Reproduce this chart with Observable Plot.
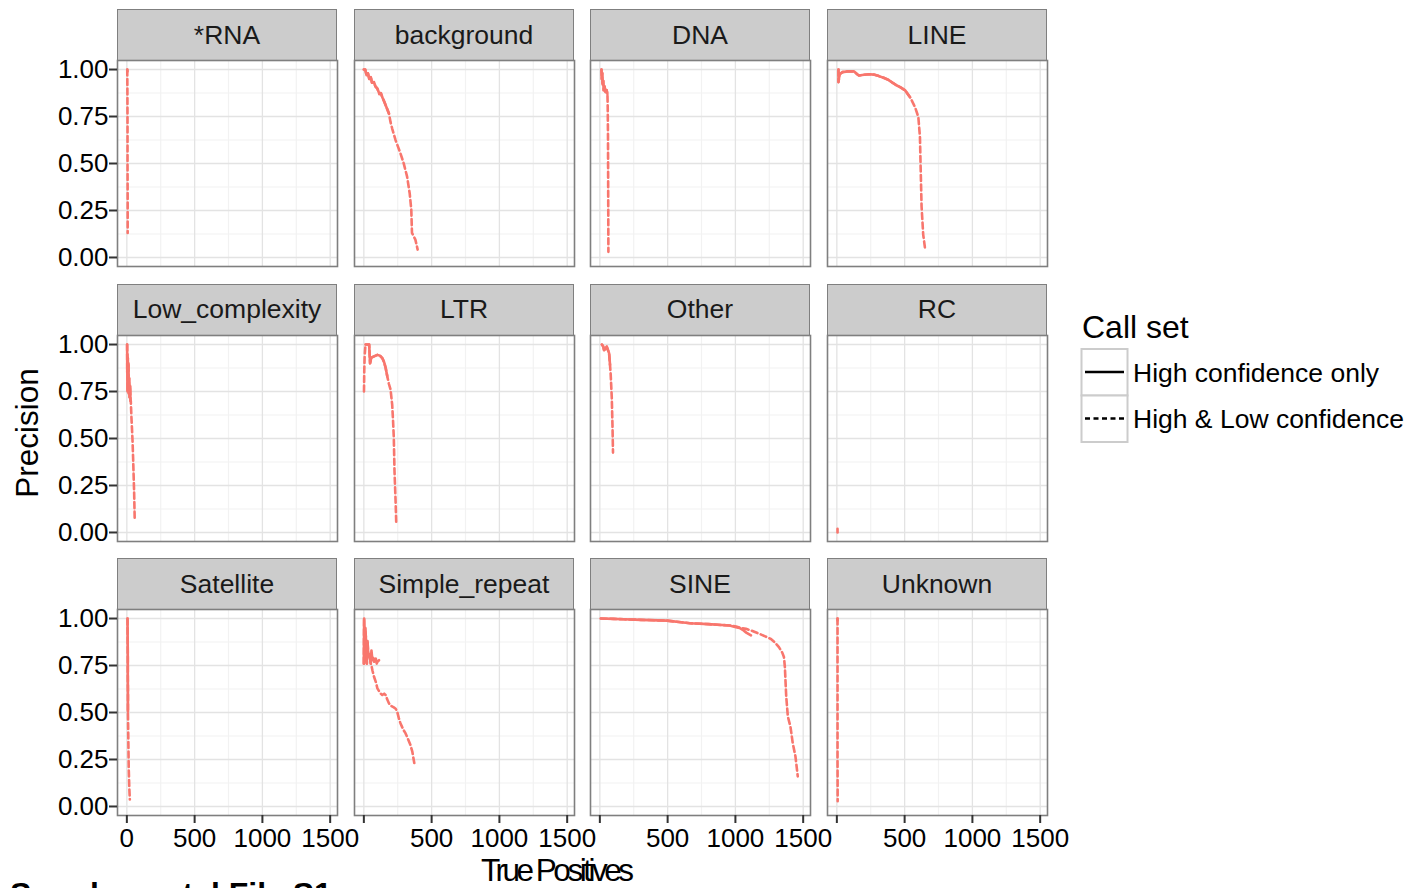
<!DOCTYPE html>
<html>
<head>
<meta charset="utf-8">
<script src="https://cdn.jsdelivr.net/npm/d3@7"></script>
<script src="https://cdn.jsdelivr.net/npm/@observablehq/plot@0.6"></script>
<style>
  html, body { margin: 0; padding: 0; background: #fff; }
  #chart { position: relative; width: 1412px; height: 888px; overflow: hidden; font-family: "Liberation Sans", Arial, sans-serif; color: #000; }
  .strip { position: absolute; box-sizing: border-box; background: #cccccc; border: 1.5px solid #7f7f7f; font-size: 26.5px; color: #1a1a1a; display: flex; align-items: center; justify-content: center; }
  .abs { position: absolute; }
</style>
</head>
<body>
<div id="chart"></div>
<script>
// ---------------- data (True Positives, Precision) ----------------
const facetNames = ["*RNA", "background", "DNA", "LINE", "Low_complexity", "LTR", "Other", "RC", "Satellite", "Simple_repeat", "SINE", "Unknown"];
const seriesNames = ["High confidence only", "High & Low confidence"];

const rna_hi = [[3, 1.0], [5, 0.99]];
const rna_all = [[3, 1.0], [4, 0.9], [5, 0.7], [5, 0.5], [6, 0.3], [6, 0.13]];

const background_hi = [[0, 1.0], [10, 1.0], [20, 0.97], [30, 0.98], [40, 0.95], [51, 0.96], [60, 0.93], [75, 0.933], [85, 0.91], [100, 0.898], [115, 0.87], [125, 0.875], [136, 0.853], [150, 0.83], [161, 0.81], [172, 0.79], [185, 0.766]];
const background_all = [[0, 1.0], [10, 1.0], [20, 0.97], [30, 0.98], [40, 0.95], [51, 0.96], [60, 0.93], [75, 0.933], [85, 0.91], [100, 0.898], [115, 0.87], [125, 0.875], [136, 0.853], [150, 0.83], [161, 0.81], [172, 0.79], [185, 0.766], [197, 0.72], [209, 0.686], [234, 0.624], [270, 0.554], [294, 0.501], [319, 0.43], [338, 0.342], [350, 0.254], [355, 0.131], [380, 0.095], [397, 0.042]];

const dna_hi = [[12, 1.0], [14, 0.95], [18, 0.98], [20, 0.92], [25, 0.94], [28, 0.89], [35, 0.91], [42, 0.88], [50, 0.89], [56, 0.87]];
const dna_all = [[12, 1.0], [14, 0.95], [18, 0.98], [20, 0.92], [25, 0.94], [28, 0.89], [35, 0.91], [42, 0.88], [50, 0.89], [56, 0.87], [58, 0.80], [60, 0.65], [61, 0.45], [62, 0.25], [63, 0.03]];

const line_hi = [[12, 1.0], [12, 0.933], [20, 0.975], [42, 0.986], [80, 0.99], [127, 0.99], [150, 0.975], [163, 0.968], [200, 0.972], [240, 0.975], [272, 0.973], [310, 0.965], [345, 0.956], [380, 0.945], [410, 0.93], [443, 0.915], [470, 0.905], [504, 0.889], [540, 0.853]];
const line_all = [[12, 1.0], [12, 0.933], [20, 0.975], [42, 0.986], [80, 0.99], [127, 0.99], [150, 0.975], [163, 0.968], [200, 0.972], [240, 0.975], [272, 0.973], [310, 0.965], [345, 0.956], [380, 0.945], [410, 0.93], [443, 0.915], [470, 0.905], [504, 0.889], [540, 0.853], [577, 0.80], [601, 0.748], [613, 0.642], [618, 0.483], [625, 0.271], [637, 0.122], [650, 0.051]];

const lowc_hi = [[2, 1.0], [3, 0.85], [4, 0.95], [5, 0.75], [7, 0.93], [9, 0.78], [12, 0.9], [14, 0.74], [17, 0.82], [20, 0.72], [24, 0.78], [27, 0.70], [29, 0.70]];
const lowc_all = [[2, 1.0], [3, 0.85], [4, 0.95], [5, 0.75], [7, 0.93], [9, 0.78], [12, 0.9], [14, 0.74], [17, 0.82], [20, 0.72], [24, 0.78], [27, 0.70], [29, 0.70], [34, 0.61], [38, 0.55], [42, 0.487], [46, 0.40], [49, 0.328], [54, 0.205], [58, 0.067]];

const ltr_hi = [[12, 1.0], [39, 1.0], [44, 0.93], [46, 0.90], [55, 0.93], [75, 0.937], [100, 0.945], [120, 0.94], [136, 0.928], [150, 0.905], [161, 0.875], [173, 0.83]];
const ltr_all = [[1, 0.75], [3, 0.86], [6, 0.94], [12, 1.0], [39, 1.0], [44, 0.93], [46, 0.90], [55, 0.93], [75, 0.937], [100, 0.945], [120, 0.94], [136, 0.928], [150, 0.905], [161, 0.875], [173, 0.83], [185, 0.79], [197, 0.76], [209, 0.68], [215, 0.60], [221, 0.504], [226, 0.328], [234, 0.169], [239, 0.049]];

const other_hi = [[15, 1.0], [25, 0.99], [31, 0.97], [40, 0.975], [51, 0.989], [60, 0.97], [68, 0.954], [72, 0.92], [75, 0.892]];
const other_all = [[15, 1.0], [25, 0.99], [31, 0.97], [40, 0.975], [51, 0.989], [60, 0.97], [68, 0.954], [72, 0.92], [75, 0.892], [80, 0.84], [88, 0.716], [93, 0.575], [97, 0.425]];

const rc_hi = [[5, 0.0], [5, 0.02]];
const rc_all = [];

const satellite_hi = [[5, 1.0], [6, 0.9], [7, 0.8], [7, 0.7], [8, 0.6], [8, 0.504]];
const satellite_all = [[5, 1.0], [6, 0.9], [7, 0.8], [7, 0.7], [8, 0.6], [8, 0.504], [10, 0.4], [12, 0.3], [14, 0.2], [18, 0.1], [22, 0.037]];

const simple_hi = [[0, 0.76], [2, 1.0], [6, 0.8], [10, 0.95], [15, 0.90], [18, 0.78], [22, 0.76], [27, 0.88], [33, 0.80], [39, 0.81], [45, 0.79], [51, 0.76], [56, 0.83], [63, 0.78], [70, 0.79], [75, 0.77], [88, 0.787], [95, 0.76], [100, 0.77], [112, 0.778]];
const simple_all = [[0, 0.76], [2, 1.0], [6, 0.8], [10, 0.95], [15, 0.90], [18, 0.78], [22, 0.76], [27, 0.88], [33, 0.80], [39, 0.81], [45, 0.79], [51, 0.76], [56, 0.75], [63, 0.725], [75, 0.69], [88, 0.663], [100, 0.628], [115, 0.61], [125, 0.60], [136, 0.593], [150, 0.60], [161, 0.593], [172, 0.57], [185, 0.549], [200, 0.535], [221, 0.527], [235, 0.52], [246, 0.504], [258, 0.47], [270, 0.443], [290, 0.41], [307, 0.39], [325, 0.36], [343, 0.328], [358, 0.29], [372, 0.231]];

const sine_hi = [[7, 1.0], [100, 0.998], [177, 0.996], [300, 0.993], [494, 0.989], [600, 0.98], [664, 0.975], [800, 0.97], [956, 0.963], [1005, 0.954], [1030, 0.95], [1054, 0.94], [1080, 0.925], [1115, 0.91]];
const sine_all = [[7, 1.0], [100, 0.998], [177, 0.996], [300, 0.993], [494, 0.989], [600, 0.98], [664, 0.975], [800, 0.97], [956, 0.963], [1005, 0.958], [1040, 0.95], [1078, 0.945], [1120, 0.935], [1175, 0.919], [1220, 0.905], [1260, 0.892], [1295, 0.87], [1321, 0.848], [1345, 0.82], [1358, 0.795], [1365, 0.742], [1370, 0.66], [1375, 0.584], [1387, 0.478], [1406, 0.425], [1423, 0.337], [1443, 0.266], [1460, 0.16]];

const unknown_hi = [[5, 1.0], [5, 0.99]];
const unknown_all = [[5, 1.0], [5, 0.75], [5, 0.5], [5, 0.25], [6, 0.028]];

const xTicks = [0, 500, 1000, 1500];
const xMinor = [250, 750, 1250];
const yTicks = [0, 0.25, 0.5, 0.75, 1];
const yMinor = [0.125, 0.375, 0.625, 0.875];

// ---------------- layout ----------------
const facetSeries = [
  [rna_hi, rna_all], [background_hi, background_all], [dna_hi, dna_all], [line_hi, line_all],
  [lowc_hi, lowc_all], [ltr_hi, ltr_all], [other_hi, other_all], [rc_hi, rc_all],
  [satellite_hi, satellite_all], [simple_hi, simple_all], [sine_hi, sine_all], [unknown_hi, unknown_all]
];
const colLeft = [117, 354, 590, 827];
const rowTop = [60, 334.5, 609];
const panelW = 220, panelH = 206, stripH = 51;
const xDomain = [-69, 1554];
const yDomain = [-0.048, 1.048];
const lineColor = "#F8766D";
const lineW = 2.6;
const dash = "6,3.5";

const chart = document.getElementById("chart");
const toRows = (arr, s) => arr.map(([tp, p]) => ({tp, p, set: s}));

facetNames.forEach((name, i) => {
  const col = i % 4, row = Math.floor(i / 4);
  const [hi, all] = facetSeries[i];
  const strip = document.createElement("div");
  strip.className = "strip";
  strip.style.left = colLeft[col] + "px";
  strip.style.top = (rowTop[row] - stripH) + "px";
  strip.style.width = panelW + "px";
  strip.style.height = (stripH + 1) + "px";
  strip.textContent = name;
  chart.appendChild(strip);

  const ml = col === 0 ? 85 : 1, mb = row === 2 ? 48 : 1, mt = 1, mr = 1;
  const plot = Plot.plot({
    width: panelW + ml + mr,
    height: panelH + mt + mb,
    marginLeft: ml, marginRight: mr, marginTop: mt, marginBottom: mb,
    x: {domain: xDomain, axis: null},
    y: {domain: yDomain, axis: null},
    style: {fontFamily: "'Liberation Sans', Arial, sans-serif", fontSize: "26px", background: "transparent", overflow: "visible", color: "#000"},
    marks: [
      Plot.frame({fill: "white"}),
      Plot.gridX(xMinor, {stroke: "#f2f2f2", strokeOpacity: 1, strokeWidth: 1.2}),
      Plot.gridY(yMinor, {stroke: "#f2f2f2", strokeOpacity: 1, strokeWidth: 1.2}),
      Plot.gridX(xTicks, {stroke: "#e3e3e3", strokeOpacity: 1, strokeWidth: 1.3}),
      Plot.gridY(yTicks, {stroke: "#e3e3e3", strokeOpacity: 1, strokeWidth: 1.3}),
      Plot.line(toRows(hi, seriesNames[0]), {x: "tp", y: "p", stroke: lineColor, strokeWidth: lineW}),
      Plot.line(toRows(all, seriesNames[1]), {x: "tp", y: "p", stroke: lineColor, strokeWidth: lineW, strokeDasharray: dash}),
      Plot.frame({stroke: "#7f7f7f", strokeWidth: 1.6}),
      col === 0 ? Plot.axisY(yTicks, {tickFormat: d3.format(".2f"), tickSize: 8, tickPadding: 1, stroke: "#333", strokeWidth: 2, fill: "#000", fontSize: 26, label: null}) : null,
      row === 2 ? Plot.axisX(xTicks, {tickFormat: d => (col > 0 && d === 0) ? "" : String(d), tickSize: 8, tickPadding: 5, stroke: "#333", strokeWidth: 2, fill: "#000", fontSize: 26, label: null}) : null
    ]
  });
  plot.style.position = "absolute";
  plot.style.left = (colLeft[col] - ml) + "px";
  plot.style.top = (rowTop[row] - mt) + "px";
  chart.appendChild(plot);
});

// axis titles
const yTitle = document.createElement("div");
yTitle.className = "abs";
yTitle.textContent = "Precision";
Object.assign(yTitle.style, {left: "27px", top: "433px", fontSize: "31.5px", transform: "translate(-50%,-50%) rotate(-90deg)", whiteSpace: "nowrap"});
chart.appendChild(yTitle);

const xTitle = document.createElement("div");
xTitle.className = "abs";
xTitle.textContent = "True Positives";
Object.assign(xTitle.style, {left: "481px", top: "858px", fontSize: "31.5px", lineHeight: "0.8", letterSpacing: "-3.5px", whiteSpace: "nowrap"});
chart.appendChild(xTitle);

// caption whose top edge only is visible at the bottom of the frame
const cap = document.createElement("div");
cap.className = "abs";
cap.textContent = "Supplemental File S1";
Object.assign(cap.style, {left: "10px", top: "876px", fontSize: "32px", fontWeight: "bold", whiteSpace: "nowrap"});
chart.appendChild(cap);

// legend
const legend = document.createElementNS("http://www.w3.org/2000/svg", "svg");
legend.setAttribute("width", "340");
legend.setAttribute("height", "150");
legend.style.position = "absolute";
legend.style.left = "1072px";
legend.style.top = "305px";
legend.style.fontFamily = "'Liberation Sans', Arial, sans-serif";
let lg = `<text x="10" y="33" font-size="32">Call set</text>`;
seriesNames.forEach((s, k) => {
  const y0 = 44 + k * 46.5;
  lg += `<rect x="9.5" y="${y0}" width="46" height="46.5" fill="white" stroke="#cccccc" stroke-width="2"/>`;
  lg += `<line x1="13" x2="52" y1="${y0 + 23}" y2="${y0 + 23}" stroke="#000" stroke-width="2.4" ${k === 1 ? 'stroke-dasharray="5,3.5"' : ''}/>`;
  lg += `<text x="61" y="${y0 + 23}" dy="0.36em" font-size="26.5">${s.replace("&", "&amp;")}</text>`;
});
legend.innerHTML = lg;
chart.appendChild(legend);
</script>
</body>
</html>
